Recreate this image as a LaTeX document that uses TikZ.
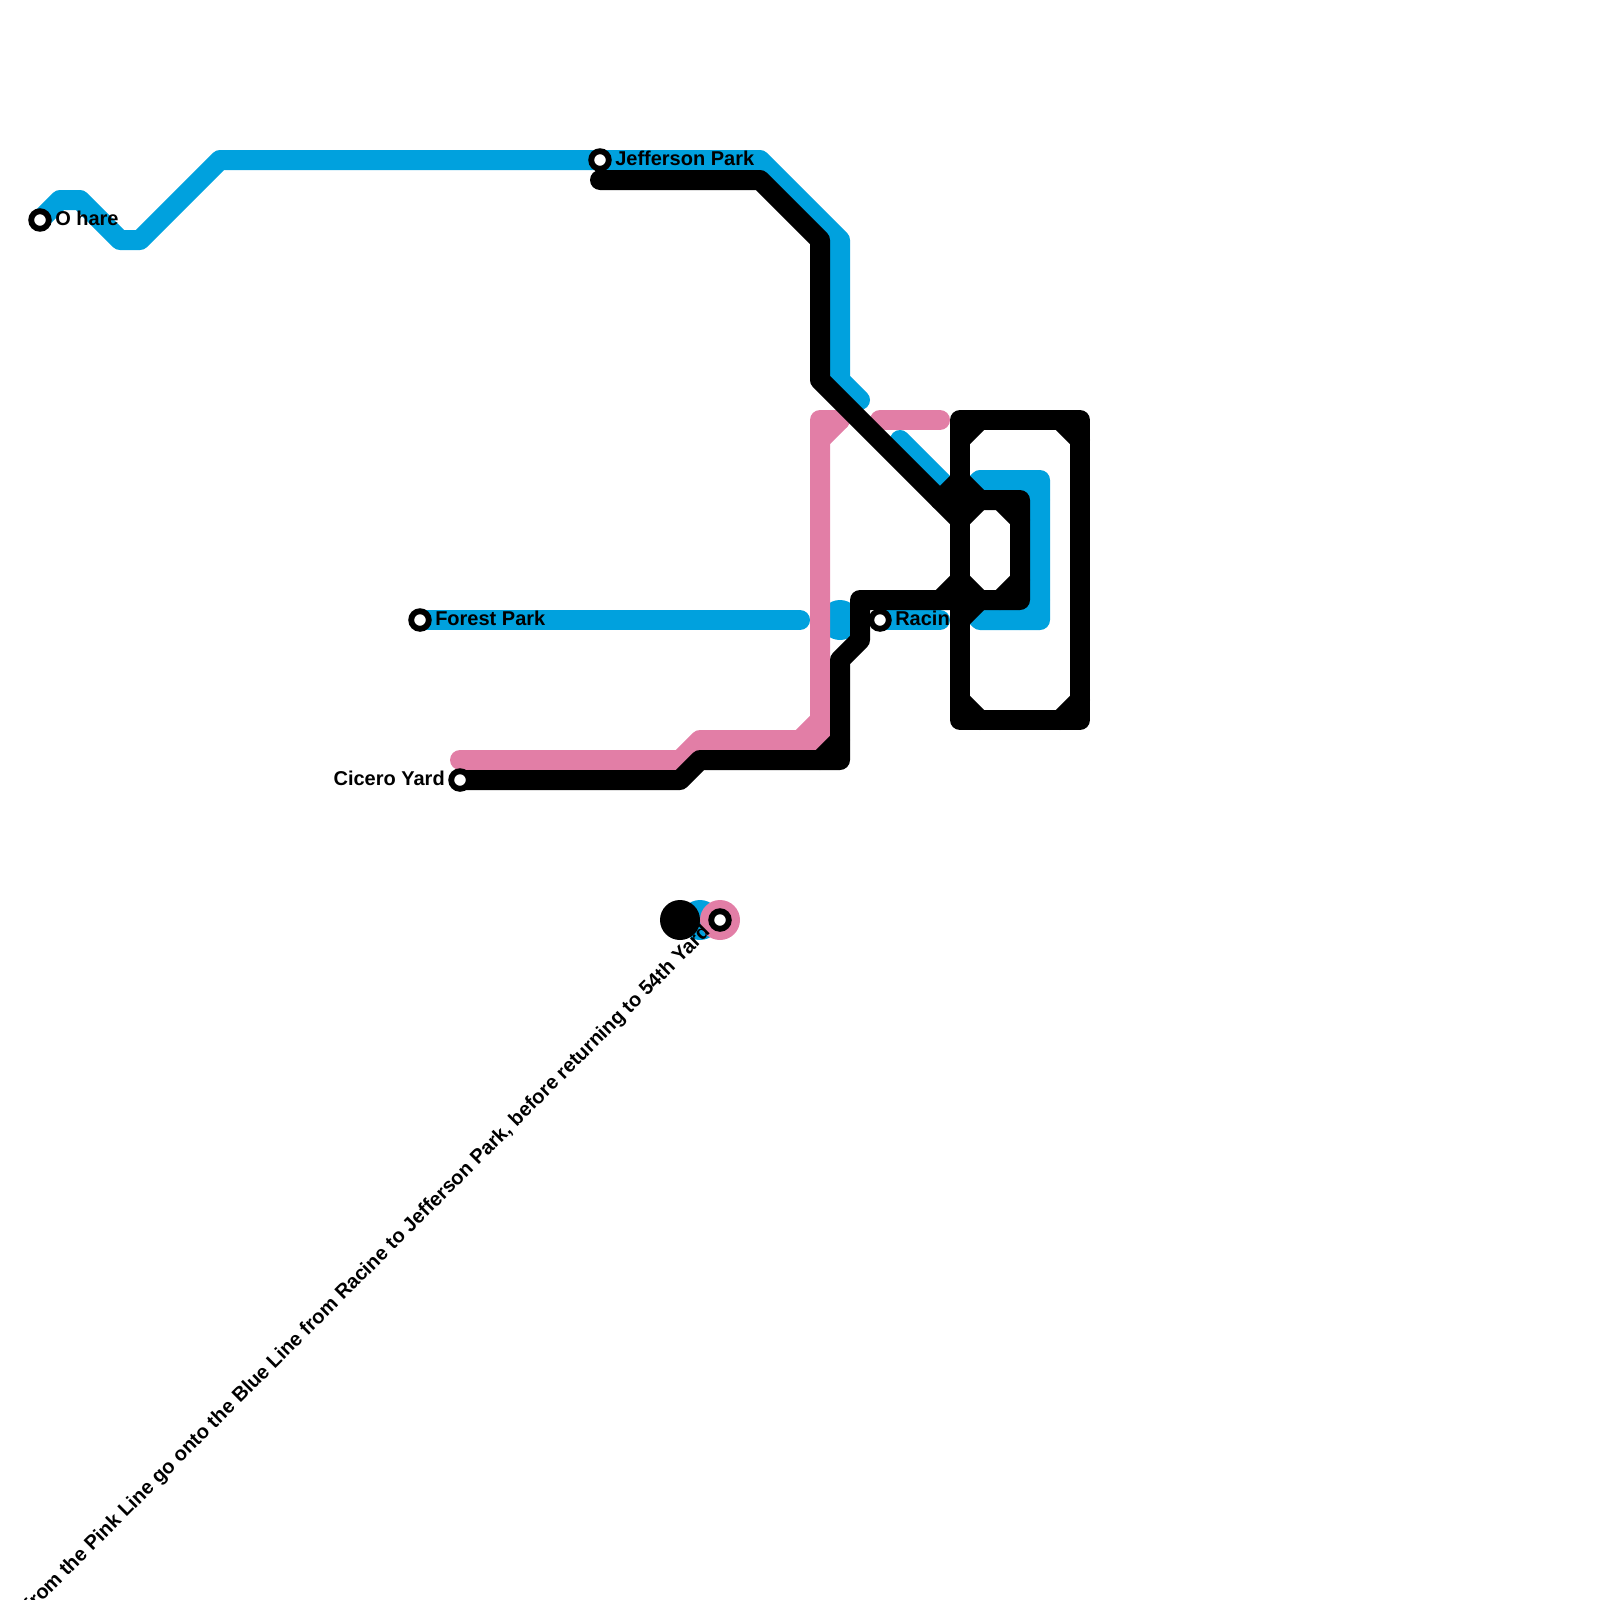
\documentclass[tikz,border=0pt]{standalone}
\usepackage{fontspec}
\setmainfont{Liberation Sans}
\usepackage{xcolor}
\definecolor{ctablue}{HTML}{00A1DE}
\definecolor{ctapink}{HTML}{E27EA6}
\usetikzlibrary{positioning}

\begin{document}
\begin{tikzpicture}[
  x=0.75pt, y=-0.75pt,
  blueline/.style={draw=ctablue, line width=15pt, line cap=round, line join=round},
  pinkline/.style={draw=ctapink, line width=15pt, line cap=round, line join=round},
  blackline/.style={draw=black, line width=15pt, line cap=round, line join=round},
  stopmark/.style={circle, draw=black, fill=white, line width=4.4pt, minimum size=13.2pt, inner sep=0pt},
  disc/.style={circle, minimum size=30pt, inner sep=0pt},
  stopname/.style={font=\bfseries\fontsize{15}{17}\selectfont, inner sep=0pt, anchor=base west}
]
\useasboundingbox (0,0) rectangle (1600,1600);

\coordinate (ohare) at (40,220);
\coordinate (jefferson) at (600,160);
\coordinate (forest) at (420,620);
\coordinate (cicero) at (460,780);
\coordinate (racine) at (880,620);
\coordinate (yard) at (720,920);

% blue line
\draw[blueline] (ohare) -- (60,200) -- (80,200) -- (120,240) -- (140,240) -- (220,160)
  -- (jefferson) -- (760,160) -- (840,240) -- (840,380) -- (860,400);
\draw[blueline] (forest) -- (800,620);
\draw[blueline] (racine) -- (940,620);
\draw[blueline] (900,440) -- (960,500);
\draw[blueline] (960,500) -- (980,480) -- (1040,480) -- (1040,620) -- (980,620) -- (960,600);
\draw[blueline] (1020,480) -- (1040,500);
\draw[blueline] (1040,600) -- (1020,620);
\node[disc, fill=ctablue] (midblue) at (840,620) {};
\node[disc, fill=ctablue] (yardblue) at (700,920) {};

% pink line
\draw[pinkline] (460,760) -- (680,760) -- (700,740) -- (820,740) -- (820,420) -- (840,420);
\draw[pinkline] (800,740) -- (820,720);
\draw[pinkline] (820,440) -- (840,420);
\draw[pinkline] (880,420) -- (940,420);
\node[disc, fill=ctapink] (yardpink) at (yard) {};
\node[disc, fill=black] (yardblack) at (680,920) {};

% labels
\node[stopname] (oharename) at (55,225) {O hare};
\node[stopname] (jeffersonname) at (615,165) {Jefferson Park};
\node[stopname] (forestname) at (435,625) {Forest Park};
\node[stopname] (racinename) at (895,625) {Racine};
\node[stopname, anchor=base east] (ciceroname) at (445,785) {Cicero Yard};
\node[stopname, anchor=base east, rotate=45] (yardname) at (711,933)
  {from the Pink Line go onto the Blue Line from Racine to Jefferson Park, before returning to 54th Yard};

% black line
\draw[blackline] (jefferson |- 0,180) -- (760,180) -- (820,240) -- (820,380) -- (960,520);
\draw[blackline] (cicero) -- (680,780) -- (700,760) -- (840,760) -- (840,660) -- (860,640)
  -- (860,600) -- (1020,600) -- (1020,500) -- (960,500);
\draw[blackline] (820,760) -- (840,740);
\draw[blackline] (960,420) rectangle (1080,720);
\draw[blackline] (960,440) -- (980,420);
\draw[blackline] (1060,420) -- (1080,440);
\draw[blackline] (1080,700) -- (1060,720);
\draw[blackline] (980,720) -- (960,700);
\draw[blackline] (940,500) -- (960,480) -- (980,500);
\draw[blackline] (1000,500) -- (1020,520);
\draw[blackline] (1020,580) -- (1000,600);
\draw[blackline] (960,520) -- (980,500);
\draw[blackline] (960,580) -- (980,600) -- (960,620);
\draw[blackline] (960,580) -- (940,600);

% stops
\node[stopmark] (oharestop) at (ohare) {};
\node[stopmark] (jeffersonstop) at (jefferson) {};
\node[stopmark] (foreststop) at (forest) {};
\node[stopmark] (cicerostop) at (cicero) {};
\node[stopmark] (racinestop) at (racine) {};
\node[stopmark] (yardstop) at (yard) {};
\end{tikzpicture}
\end{document}
